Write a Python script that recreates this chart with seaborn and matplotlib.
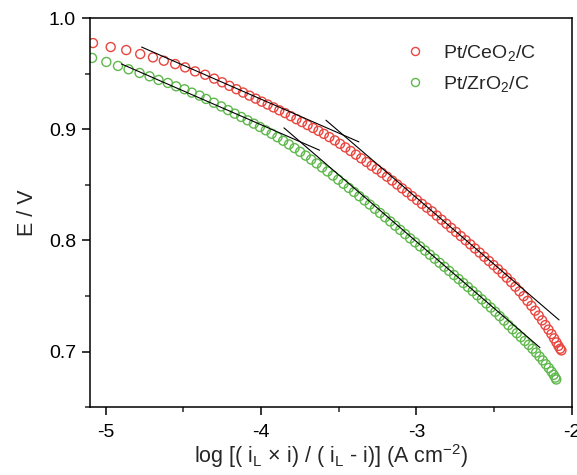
import numpy as np
import pandas as pd
import matplotlib
matplotlib.use("Agg")
import matplotlib.pyplot as plt
from matplotlib.lines import Line2D
from matplotlib.ticker import MultipleLocator, FormatStrFormatter
import seaborn as sns

# Pt/CeO2/C points
ce_x = [-5.081, -4.967, -4.867, -4.777, -4.695, -4.625, -4.552, -4.488, -4.424, -4.359,
        -4.301, -4.250, -4.203, -4.158, -4.115, -4.074, -4.034, -3.995, -3.957, -3.919,
        -3.882, -3.845, -3.808, -3.772, -3.736, -3.700, -3.665, -3.630, -3.595, -3.560,
        -3.525, -3.491, -3.457, -3.423, -3.389, -3.355, -3.321, -3.288, -3.255, -3.222,
        -3.189, -3.156, -3.124, -3.092, -3.060, -3.028, -2.996, -2.964, -2.932, -2.900,
        -2.869, -2.838, -2.807, -2.776, -2.745, -2.714, -2.683, -2.653, -2.623, -2.593,
        -2.563, -2.533, -2.504, -2.475, -2.446, -2.418, -2.390, -2.363, -2.336, -2.310,
        -2.285, -2.260, -2.236, -2.213, -2.191, -2.170, -2.150, -2.131, -2.114, -2.099,
        -2.086, -2.075, -2.067]
ce_e = [0.9775, 0.9739, 0.9712, 0.9676, 0.9646, 0.9616, 0.9586, 0.9556, 0.9520, 0.9490,
        0.9455, 0.9422, 0.9390, 0.9360, 0.9330, 0.9302, 0.9275, 0.9248, 0.9222, 0.9196,
        0.9170, 0.9145, 0.9117, 0.9090, 0.9064, 0.9037, 0.9011, 0.8985, 0.8958, 0.8929,
        0.8899, 0.8868, 0.8836, 0.8804, 0.8771, 0.8738, 0.8705, 0.8671, 0.8640, 0.8608,
        0.8573, 0.8538, 0.8503, 0.8468, 0.8433, 0.8398, 0.8363, 0.8328, 0.8294, 0.8261,
        0.8223, 0.8186, 0.8149, 0.8112, 0.8075, 0.8038, 0.8001, 0.7964, 0.7927, 0.7890,
        0.7852, 0.7814, 0.7778, 0.7741, 0.7703, 0.7664, 0.7624, 0.7583, 0.7541, 0.7498,
        0.7455, 0.7411, 0.7367, 0.7323, 0.7280, 0.7238, 0.7197, 0.7157, 0.7118, 0.7082,
        0.7050, 0.7025, 0.7010]

# Pt/ZrO2/C
zr_x = [-5.087, -4.995, -4.920, -4.852, -4.781, -4.717, -4.659, -4.599, -4.546, -4.492,
        -4.445, -4.395, -4.353, -4.303, -4.256, -4.212, -4.169, -4.127, -4.086, -4.046,
        -4.007, -3.969, -3.931, -3.894, -3.857, -3.820, -3.784, -3.748, -3.712, -3.677,
        -3.642, -3.607, -3.572, -3.537, -3.503, -3.469, -3.435, -3.401, -3.367, -3.333,
        -3.300, -3.267, -3.234, -3.201, -3.168, -3.136, -3.104, -3.072, -3.040, -3.008,
        -2.976, -2.944, -2.913, -2.882, -2.851, -2.820, -2.789, -2.758, -2.728, -2.698,
        -2.668, -2.638, -2.608, -2.579, -2.550, -2.521, -2.492, -2.464, -2.436, -2.408,
        -2.381, -2.354, -2.328, -2.302, -2.277, -2.253, -2.230, -2.208, -2.187, -2.167,
        -2.148, -2.131, -2.117, -2.106, -2.100]
zr_e = [0.9641, 0.9605, 0.9569, 0.9539, 0.9506, 0.9476, 0.9443, 0.9416, 0.9386, 0.9359,
        0.9329, 0.9302, 0.9272, 0.9238, 0.9205, 0.9172, 0.9140, 0.9110, 0.9080, 0.9050,
        0.9020, 0.8990, 0.8959, 0.8928, 0.8896, 0.8863, 0.8830, 0.8796, 0.8762, 0.8727,
        0.8692, 0.8656, 0.8620, 0.8583, 0.8546, 0.8509, 0.8472, 0.8435, 0.8397, 0.8359,
        0.8322, 0.8284, 0.8246, 0.8208, 0.8170, 0.8132, 0.8094, 0.8056, 0.8018, 0.7982,
        0.7945, 0.7908, 0.7871, 0.7835, 0.7798, 0.7762, 0.7725, 0.7688, 0.7652, 0.7616,
        0.7580, 0.7543, 0.7506, 0.7469, 0.7432, 0.7395, 0.7357, 0.7318, 0.7278, 0.7238,
        0.7200, 0.7165, 0.7130, 0.7095, 0.7060, 0.7025, 0.6990, 0.6955, 0.6920, 0.6885,
        0.6852, 0.6820, 0.6790, 0.6765, 0.6748]

# Tafel fit lines (end points)
fit_x = [[-4.768, -3.370], [-3.582, -2.082], [-4.898, -3.623], [-3.852, -2.205]]
fit_e = [[0.9739, 0.8886], [0.9081, 0.7284], [0.9587, 0.8811], [0.9012, 0.7035]]

labels = ["Pt/CeO$_2$/C", "Pt/ZrO$_2$/C"]
colors = ["#e8463f", "#5fb84c"]

sns.set_style("ticks")
plt.rcParams["font.family"] = ["Liberation Sans", "DejaVu Sans"]
plt.rcParams["mathtext.default"] = "regular"

fig = plt.figure(figsize=(5.77, 4.75), dpi=100)
ax = fig.add_axes([0.156, 0.143, 0.835, 0.819])

for xs, es, c in zip([ce_x, zr_x], [ce_e, zr_e], colors):
    sns.scatterplot(x=xs, y=es, ax=ax, color=c, facecolors="none", edgecolor=c,
                    s=42, linewidth=1.0, marker="o", legend=False, zorder=2)
for coll, c in zip(ax.collections, colors):
    coll.set_facecolor("none")
    coll.set_edgecolor(c)

for fx, fe in zip(fit_x, fit_e):
    ax.plot(fx, fe, color="black", lw=0.8, zorder=3)

ax.set_xlim(-5.1, -2.0)
ax.set_ylim(0.65, 1.0)
ax.xaxis.set_major_locator(MultipleLocator(1))
ax.xaxis.set_minor_locator(MultipleLocator(0.5))
ax.yaxis.set_major_locator(MultipleLocator(0.1))
ax.yaxis.set_minor_locator(MultipleLocator(0.05))
ax.yaxis.set_major_formatter(FormatStrFormatter("%.1f"))
ax.xaxis.set_major_formatter(FormatStrFormatter("%d"))

for sp in ax.spines.values():
    sp.set_visible(True)
    sp.set_linewidth(1.1)
    sp.set_color("black")
ax.tick_params(which="major", direction="out", length=6, width=1.1, labelsize=14,
               colors="black", top=False, right=False)
ax.tick_params(which="minor", direction="out", length=3.5, width=1.1, top=False, right=False)
ax.tick_params(axis="x", pad=6)
ax.tick_params(axis="y", pad=4)

ax.set_xlabel("log [( i$_L$ × i) / ( i$_L$ - i)] (A cm$^{-2}$)", fontsize=15.5, labelpad=1)
ax.set_ylabel("E / V", fontsize=15.5, labelpad=8)

handles = [Line2D([], [], linestyle="none", marker="o", markersize=5.8,
                  markerfacecolor="none", markeredgecolor=c, markeredgewidth=1.0)
           for c in colors]
ax.legend(handles, labels, loc="upper left", bbox_to_anchor=(0.615, 0.982), frameon=False,
          fontsize=14, handlelength=1.2, handletextpad=0.8, labelspacing=0.58)

fig.savefig("out.png", dpi=100)
